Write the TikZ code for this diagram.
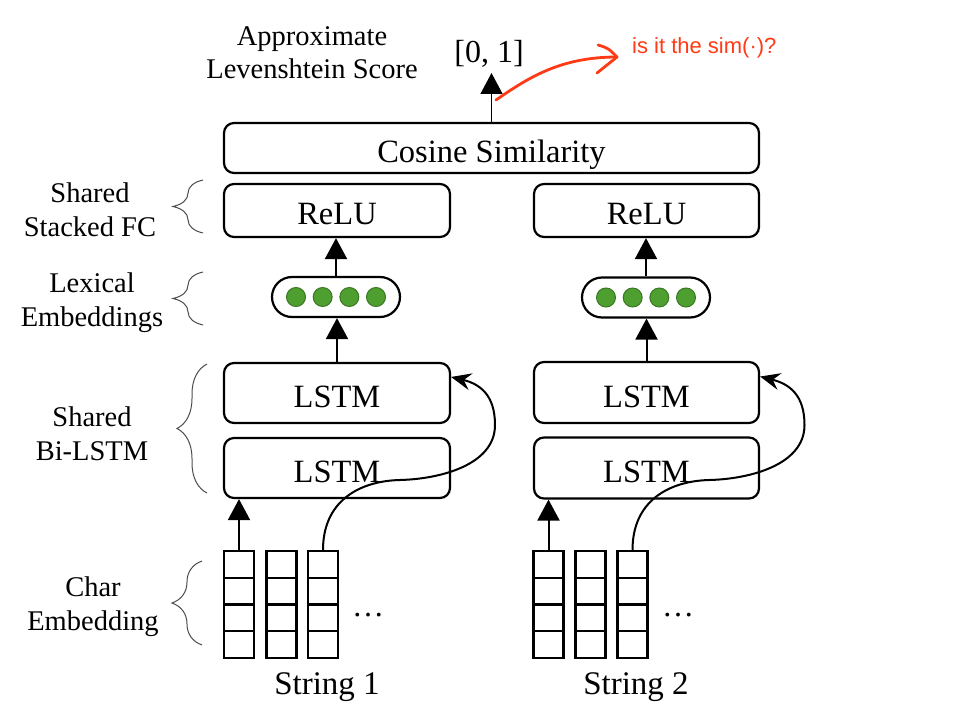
\documentclass[tikz,border=0pt]{standalone}
\usepackage{fontspec}
\setmainfont{Liberation Serif}
\newfontfamily\annfont{Liberation Sans}
\usetikzlibrary{arrows.meta,decorations.pathreplacing,calc}
\definecolor{dotgreen}{RGB}{78,158,48}
\definecolor{dotedge}{RGB}{58,120,36}
\definecolor{annred}{RGB}{255,58,20}
\tikzset{
  box/.style={draw, line width=2.2pt, rounded corners=10pt, inner sep=0pt,
    text height=29pt, text depth=0pt,
    font=\fontsize{32.5}{39}\selectfont},
  pill/.style={draw, line width=2.2pt, rounded corners=20pt, minimum width=128pt,
    minimum height=40pt, inner sep=0pt},
  gdot/.style={circle, fill=dotgreen, draw=dotedge, line width=1pt, minimum size=19pt, inner sep=0pt},
  cell/.style={draw, line width=2.2pt, minimum width=30pt, minimum height=26.75pt, inner sep=0pt},
  side/.style={align=center, font=\fontsize{28.5}{34}\selectfont},
  big/.style={font=\fontsize{33}{40}\selectfont},
  uparrow/.style={line width=2pt, -{Triangle[length=21pt,width=22pt]}},
  looparrow/.style={line width=2pt, -{Stealth[length=20pt,width=17pt,inset=7pt]}},
  bracestyle/.style={draw=black!70, line width=1pt, decorate, decoration={brace, amplitude=30pt}},
}
\begin{document}
\begin{tikzpicture}[x=1pt,y=-1pt]
\useasboundingbox (0,0) rectangle (966,714);

% main boxes
\node[box, minimum width=535pt, minimum height=50pt] (cos) at (491.5,148) {Cosine Similarity};
\node[box, minimum width=226pt, minimum height=53pt] (reluL) at (337,210.5) {ReLU};
\node[box, minimum width=225pt, minimum height=53pt] (reluR) at (646.5,210.5) {ReLU};
\node[pill] (pillL) at (336,297) {};
\node[pill] (pillR) at (646,297.5) {};
\foreach \s in {L,R}{
  \foreach \k/\dx in {1/-40,2/-13.33,3/13.33,4/40}{
    \node[gdot] (dot\s\k) at ([xshift=\dx pt]pill\s.center) {};
  }
}
\node[box, minimum width=226pt, minimum height=60pt] (lstmL2) at (337,393) {LSTM};
\node[box, minimum width=226pt, minimum height=60pt] (lstmL1) at (337,468) {LSTM};
\node[box, minimum width=225pt, minimum height=61pt] (lstmR2) at (646.5,392.5) {LSTM};
\node[box, minimum width=225pt, minimum height=61pt] (lstmR1) at (646.5,468) {LSTM};

% char embedding columns
\foreach \s/\xa/\xb/\xc in {L/239/281.5/323, R/548.5/590.5/632.5}{
  \foreach \c/\x in {1/\xa,2/\xb,3/\xc}{
    \foreach \r/\y in {1/564.4,2/591.1,3/617.9,4/644.6}{
      \node[cell] (\s-\c-\r) at (\x,\y) {};
    }
  }
}
\node[anchor=base, font=\fontsize{32}{38}\selectfont] (ellL) at (368,616) {\ldots};
\node[anchor=base, font=\fontsize{32}{38}\selectfont] (ellR) at (678,616) {\ldots};

% strings
\node[big] (str1) at (327,687) {String 1};
\node[big] (str2) at (636,687) {String 2};

% output
\node[anchor=south, inner sep=5pt, font=\fontsize{32}{38}\selectfont] (score) at (489,73) {[0, 1]};
\node[side, font=\fontsize{28.5}{33}\selectfont] (approx) at (312,53) {Approximate\\Levenshtein Score};

% side labels
\node[side] (labFC) at (90,210) {Shared\\Stacked FC};
\node[side] (labLex) at (92,303) {Lexical\\Embeddings};
\node[side] (labBi) at (92,434) {Shared\\Bi-LSTM};
\node[side] (labChar) at (93,607) {Char\\Embedding};

% braces
\draw[bracestyle] (203,233) -- (203,180);
\draw[bracestyle] (203,325) -- (203,272);
\draw[bracestyle] (207,493) -- (207,364);
\draw[bracestyle] (202,645) -- (202,561);

% vertical arrows
\draw[line width=1.5pt, -{Triangle[length=21pt,width=22pt]}] (cos.north) -- (cos.north |- score.south);
\foreach \s in {L,R}{
  \draw[uparrow] (lstm\s2.north) -- (lstm\s2.north |- pill\s.south);
  \draw[uparrow] (pill\s.north) -- (pill\s.north |- relu\s.south);
  \draw[uparrow] (\s-1-1.north) -- (\s-1-1.north |- lstm\s1.south);
}

% recurrent curved arrows
\foreach \s/\o in {L/0,R/309.5}{
  \begin{scope}[xshift=\o pt]
    \draw[looparrow] (\s-3-1.north) .. controls (323,502) and (358,481) .. (400,480)
      .. controls (440,479) and (495,465) .. (495,425)
      .. controls (495,395) and (480,384) .. (lstm\s2.8);
  \end{scope}
}

% annotation
\node[anchor=west, inner sep=0pt, text=annred, font=\annfont\fontsize{22}{26}\selectfont] (note) at (632,48) {is it the sim(·)?};
\coordinate (redstart) at (496,100);
\coordinate (redtip) at (617,57);
\draw[annred, line width=2.8pt, line cap=round, line join=round]
  (redstart) .. controls (528,78) and (560,57) .. (redtip);
\draw[annred, line width=2.8pt, line cap=round, line join=round]
  (598,45) .. controls (608,48) .. (redtip) -- (597,73);
\end{tikzpicture}
\end{document}
